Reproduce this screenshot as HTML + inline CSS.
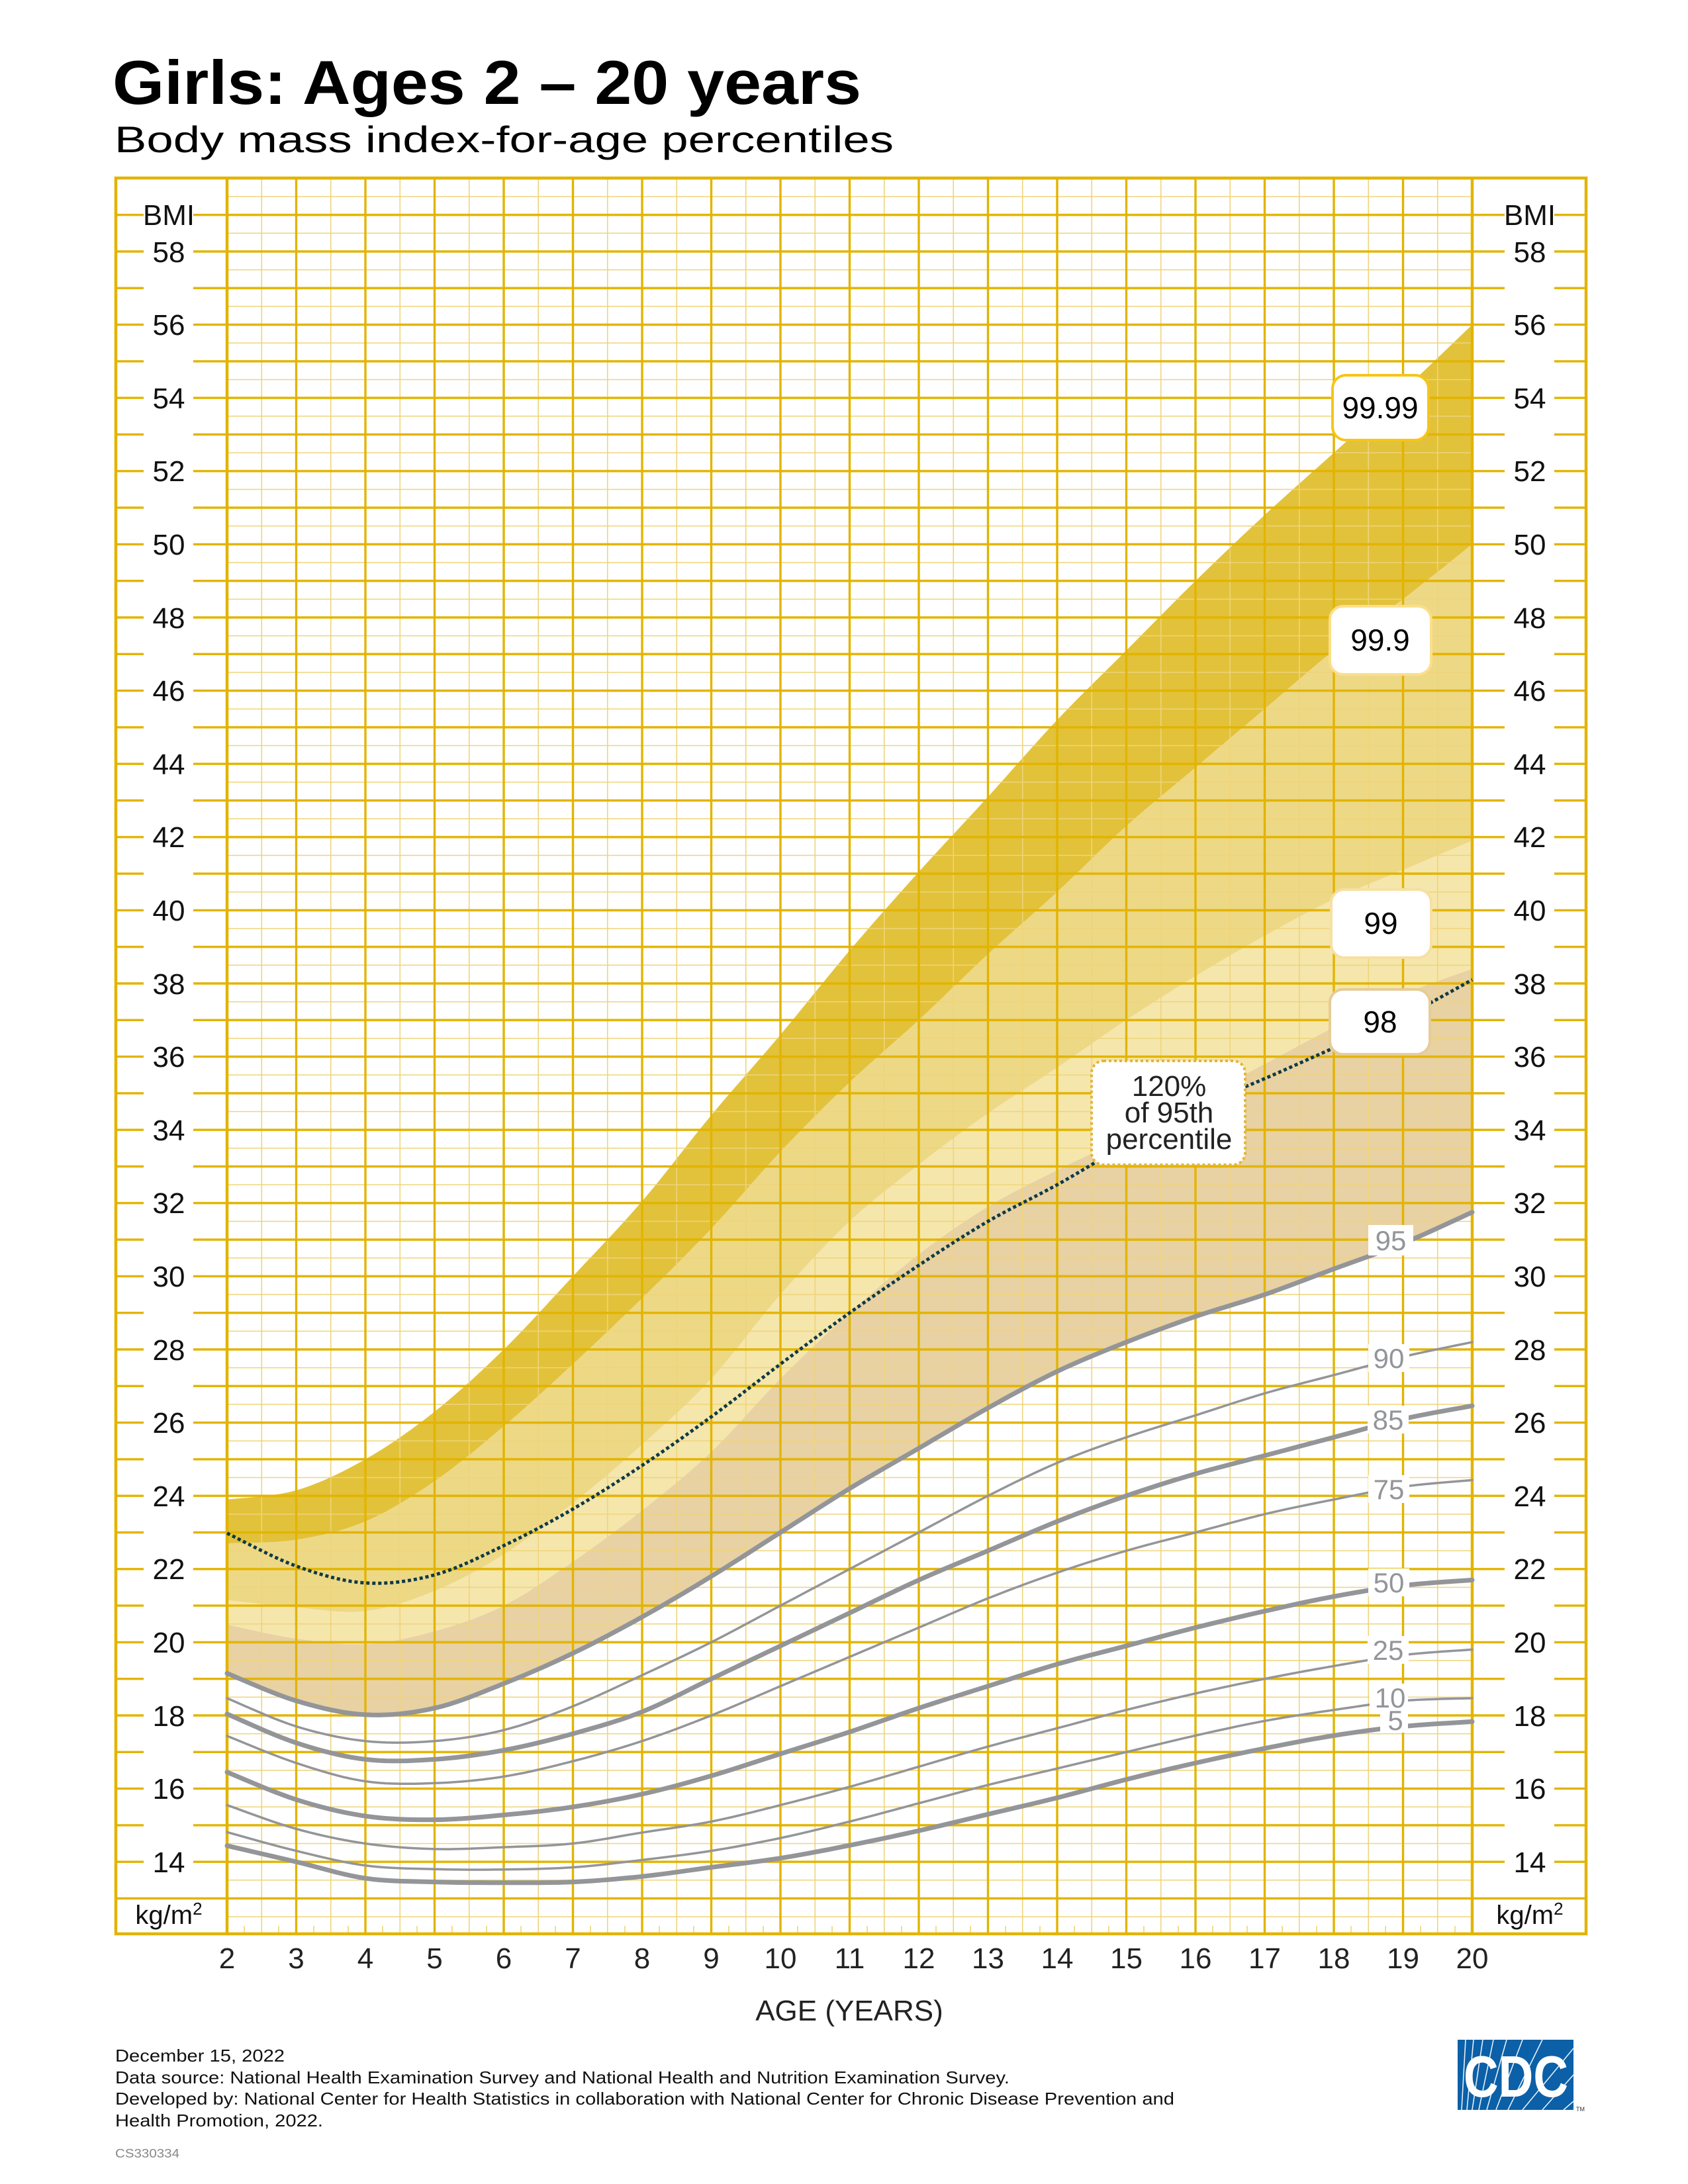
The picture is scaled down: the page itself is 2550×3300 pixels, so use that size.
<!DOCTYPE html>
<html><head><meta charset="utf-8"><style>
html,body{margin:0;padding:0;background:#fff}
svg{display:block}
text{font-family:"Liberation Sans",Arial,sans-serif}
</style></head><body>
<svg width="2550" height="3300" viewBox="0 0 2550 3300" xmlns="http://www.w3.org/2000/svg">
<defs>
<pattern id="grid" patternUnits="userSpaceOnUse" x="343" y="380" width="104.5" height="55.3">
<line x1="52.25" y1="0" x2="52.25" y2="55.3" stroke="#efd47a" stroke-width="1.6"/>
<line x1="0" y1="27.65" x2="104.5" y2="27.65" stroke="#efd47a" stroke-width="1.6"/>
<line x1="0" y1="0" x2="0" y2="55.3" stroke="#e2b400" stroke-width="3.4"/>
<line x1="104.5" y1="0" x2="104.5" y2="55.3" stroke="#e2b400" stroke-width="3.4"/>
<line x1="0" y1="0" x2="104.5" y2="0" stroke="#e2b400" stroke-width="3.4"/>
<line x1="0" y1="55.3" x2="104.5" y2="55.3" stroke="#e2b400" stroke-width="3.4"/>
</pattern>
</defs>
<rect width="2550" height="3300" fill="#fff"/>

<text x="170" y="157" font-size="94" font-weight="bold" textLength="1131" lengthAdjust="spacingAndGlyphs">Girls: Ages 2 – 20 years</text>
<text x="173" y="230" font-size="56" textLength="1177" lengthAdjust="spacingAndGlyphs">Body mass index-for-age percentiles</text>

<!-- bands -->
<g transform="translate(134,3587.4) scale(104.5,-55.3)">
<polygon class="sm" fill="#e2c23a" points="2,23.9 3,24.15 4,25 5,26.3 6,28 7,30 8,32.05 9,34.4 10,36.6 11,38.9 12,41.05 13,43.1 14,45.2 15,47.1 16,49 17,50.8 18,52.5 19,54.2 20,56 20,50 19,48.5 18,47.1 17,45.5 16,43.9 15,42.3 14,40.5 13,38.8 12,37 11,35.3 10,33.4 9,31.3 8,29.4 7,27.6 6,25.9 5,24.4 4,23.3 3,22.8 2,22.7"/>
<polygon class="sm" fill="#edd886" points="2,22.7 3,22.8 4,23.3 5,24.4 6,25.9 7,27.6 8,29.4 9,31.3 10,33.4 11,35.3 12,37 13,38.8 14,40.5 15,42.3 16,43.9 17,45.5 18,47.1 19,48.5 20,50 20,41.9 19,41.1 18,40.3 17,39.3 16,38.2 15,37 14,35.7 13,34.45 12,33.05 11,31.5 10,29.5 9,27.2 8,25.4 7,23.8 6,22.4 5,21.4 4,20.85 3,20.95 2,21.15"/>
<polygon class="sm" fill="#f5e6ac" points="2,21.15 3,20.95 4,20.85 5,21.4 6,22.4 7,23.8 8,25.4 9,27.2 10,29.5 11,31.5 12,33.05 13,34.45 14,35.7 15,37 16,38.2 17,39.3 18,40.3 19,41.1 20,41.9 20,38.4 19,37.7 18,36.8 17,35.8 16,34.8 15,33.8 14,32.9 13,31.9 12,30.6 11,29 10,27.2 9,25.2 8,23.6 7,22.2 6,21 5,20.3 4,19.95 3,20.1 2,20.48"/>
<polygon class="sm" fill="#e8d1a3" points="2,20.48 3,20.1 4,19.95 5,20.3 6,21 7,22.2 8,23.6 9,25.2 10,27.2 11,29 12,30.6 13,31.9 14,32.9 15,33.8 16,34.8 17,35.8 18,36.8 19,37.7 20,38.4 20,31.75 19,30.9 18,30.2 17,29.5 16,28.9 15,28.2 14,27.4 13,26.4 12,25.3 11,24.2 10,23 9,21.8 8,20.69 7,19.7 6,18.87 5,18.2 4,18.02 3,18.4 2,19.15"/>
</g>

<!-- grid -->
<rect x="343" y="269" width="1881" height="2654" fill="url(#grid)"/>
<g stroke="#efd47a" stroke-width="1.6">
<path d="M369,2910V2922M421,2910V2922M474,2910V2922M526,2910V2922M578,2910V2922M630,2910V2922M683,2910V2922M735,2910V2922M787,2910V2922M839,2910V2922M892,2910V2922M944,2910V2922M996,2910V2922M1048,2910V2922M1101,2910V2922M1153,2910V2922M1205,2910V2922M1257,2910V2922M1310,2910V2922M1362,2910V2922M1414,2910V2922M1466,2910V2922M1519,2910V2922M1571,2910V2922M1623,2910V2922M1675,2910V2922M1728,2910V2922M1780,2910V2922M1832,2910V2922M1884,2910V2922M1937,2910V2922M1989,2910V2922M2041,2910V2922M2093,2910V2922M2146,2910V2922M2198,2910V2922"/>
</g>
<!-- side column lines -->
<g stroke="#e2b400" stroke-width="3.4">
<path d="M175,324.7H343M175,380H343M175,435.3H343M175,490.6H343M175,545.9H343M175,601.2H343M175,656.5H343M175,711.8H343M175,767.1H343M175,822.4H343M175,877.7H343M175,933H343M175,988.3H343M175,1043.6H343M175,1098.9H343M175,1154.2H343M175,1209.5H343M175,1264.8H343M175,1320.1H343M175,1375.4H343M175,1430.7H343M175,1486H343M175,1541.3H343M175,1596.6H343M175,1651.9H343M175,1707.2H343M175,1762.5H343M175,1817.8H343M175,1873.1H343M175,1928.4H343M175,1983.7H343M175,2039H343M175,2094.3H343M175,2149.6H343M175,2204.9H343M175,2260.2H343M175,2315.5H343M175,2370.8H343M175,2426.1H343M175,2481.4H343M175,2536.7H343M175,2592H343M175,2647.3H343M175,2702.6H343M175,2757.9H343M175,2813.2H343M175,2868.5H343"/>
<path transform="translate(2049,0)" d="M175,324.7H347M175,380H347M175,435.3H347M175,490.6H347M175,545.9H347M175,601.2H347M175,656.5H347M175,711.8H347M175,767.1H347M175,822.4H347M175,877.7H347M175,933H347M175,988.3H347M175,1043.6H347M175,1098.9H347M175,1154.2H347M175,1209.5H347M175,1264.8H347M175,1320.1H347M175,1375.4H347M175,1430.7H347M175,1486H347M175,1541.3H347M175,1596.6H347M175,1651.9H347M175,1707.2H347M175,1762.5H347M175,1817.8H347M175,1873.1H347M175,1928.4H347M175,1983.7H347M175,2039H347M175,2094.3H347M175,2149.6H347M175,2204.9H347M175,2260.2H347M175,2315.5H347M175,2370.8H347M175,2426.1H347M175,2481.4H347M175,2536.7H347M175,2592H347M175,2647.3H347M175,2702.6H347M175,2757.9H347M175,2813.2H347M175,2868.5H347"/>
</g>
<rect x="217" y="300" width="75" height="2560" fill="#fff"/>
<rect x="2273" y="300" width="75" height="2560" fill="#fff"/>
<g stroke="#e2b400" stroke-width="4.5" fill="none">
<rect x="175" y="269" width="2221" height="2653"/>
<line x1="343" y1="269" x2="343" y2="2922"/>
<line x1="2224" y1="269" x2="2224" y2="2922"/>
</g>

<!-- percentile curves -->
<g transform="translate(134,3587.4) scale(104.5,-55.3)" fill="none" stroke="#939598" stroke-linejoin="round" stroke-linecap="round">
<polyline class="sl" vector-effect="non-scaling-stroke" stroke-width="7" points="2,19.15 3,18.4 4,18.02 5,18.2 6,18.87 7,19.7 8,20.69 9,21.8 10,23 11,24.2 12,25.3 13,26.4 14,27.4 15,28.2 16,28.9 17,29.5 18,30.2 19,30.9 20,31.75"/>
<polyline class="sl" vector-effect="non-scaling-stroke" stroke-width="3.5" points="2,18.47 3,17.7 4,17.3 5,17.3 6,17.6 7,18.25 8,19.1 9,20 10,21 11,22 12,23 13,24 14,24.9 15,25.6 16,26.2 17,26.8 18,27.3 19,27.8 20,28.2"/>
<polyline class="sl" vector-effect="non-scaling-stroke" stroke-width="7" points="2,18.04 3,17.25 4,16.8 5,16.8 6,17.05 7,17.5 8,18.1 9,19 10,19.9 11,20.8 12,21.7 13,22.5 14,23.3 15,24 16,24.6 17,25.1 18,25.6 19,26.1 20,26.46"/>
<polyline class="sl" vector-effect="non-scaling-stroke" stroke-width="3.5" points="2,17.44 3,16.7 4,16.2 5,16.15 6,16.33 7,16.75 8,17.3 9,18 10,18.8 11,19.6 12,20.4 13,21.2 14,21.9 15,22.5 16,23 17,23.5 18,23.9 19,24.25 20,24.43"/>
<polyline class="sl" vector-effect="non-scaling-stroke" stroke-width="7" points="2,16.45 3,15.7 4,15.25 5,15.15 6,15.28 7,15.5 8,15.85 9,16.35 10,16.95 11,17.55 12,18.2 13,18.8 14,19.4 15,19.9 16,20.4 17,20.85 18,21.25 19,21.55 20,21.7"/>
<polyline class="sl" vector-effect="non-scaling-stroke" stroke-width="3.5" points="2,15.55 3,14.9 4,14.5 5,14.35 6,14.4 7,14.5 8,14.8 9,15.1 10,15.55 11,16.05 12,16.6 13,17.15 14,17.65 15,18.15 16,18.6 17,19 18,19.35 19,19.65 20,19.8"/>
<polyline class="sl" vector-effect="non-scaling-stroke" stroke-width="3.5" points="2,14.81 3,14.3 4,13.9 5,13.8 6,13.79 7,13.85 8,14.05 9,14.3 10,14.65 11,15.1 12,15.6 13,16.1 14,16.55 15,17 16,17.45 17,17.85 18,18.15 19,18.4 20,18.47"/>
<polyline class="sl" vector-effect="non-scaling-stroke" stroke-width="7" points="2,14.44 3,14 4,13.55 5,13.45 6,13.43 7,13.45 8,13.6 9,13.85 10,14.1 11,14.45 12,14.85 13,15.3 14,15.75 15,16.25 16,16.7 17,17.1 18,17.45 19,17.7 20,17.83"/>
<polyline class="sl" vector-effect="non-scaling-stroke" stroke-width="5" stroke="#0f3a45" stroke-linecap="butt" stroke-dasharray="5 4" points="2,22.98 3,22.08 4,21.62 5,21.84 6,22.64 7,23.64 8,24.83 9,26.16 10,27.6 11,29.0 12,30.3 13,31.5 14,32.5 15,33.6 16,34.6 17,35.4 18,36.24 19,37.08 20,38.1"/>
</g>

<!-- percentile labels -->
<g fill="#fff">
<rect x="2067" y="1851" width="68" height="46"/>
<rect x="2067" y="2031" width="62" height="42"/>
<rect x="2066" y="2124" width="62" height="42"/>
<rect x="2067" y="2229" width="62" height="42"/>
<rect x="2067" y="2370" width="62" height="42"/>
<rect x="2066" y="2472" width="62" height="42"/>
<rect x="2069" y="2544" width="58" height="40"/>
<rect x="2085" y="2582" width="42" height="36"/>
</g>
<g fill="#939598" font-size="42" text-anchor="middle">
<text x="2101" y="1889">95</text>
<text x="2098" y="2067">90</text>
<text x="2097" y="2160">85</text>
<text x="2098" y="2265">75</text>
<text x="2098" y="2406">50</text>
<text x="2097" y="2508">25</text>
<text x="2100" y="2580">10</text>
<text x="2108" y="2614">5</text>
</g>

<g font-size="46" text-anchor="middle" stroke-width="4">
<rect x="2013" y="567" width="145" height="98" rx="20" fill="#fff" stroke="#f5c518"/>
<text x="2085" y="632">99.99</text>
<rect x="2009" y="916" width="153" height="103" rx="20" fill="#fff" stroke="#fbdf8a"/>
<text x="2085" y="983">99.9</text>
<rect x="2011" y="1344" width="151" height="103" rx="20" fill="#fff" stroke="#f6e0a2"/>
<text x="2086" y="1411">99</text>
<rect x="2009" y="1495" width="151" height="98" rx="20" fill="#fff" stroke="#e6cc96"/>
<text x="2085" y="1560">98</text>
<rect x="1649" y="1603" width="232" height="157" rx="18" fill="#fff" stroke="#e2b53a" stroke-dasharray="4 4"/>
<text x="1766" y="1656" font-size="44" fill="#222">120%</text>
<text x="1766" y="1696" font-size="44" fill="#222">of 95th</text>
<text x="1766" y="1736" font-size="44" fill="#222">percentile</text>
</g>

<!-- axis labels -->
<g font-size="44" text-anchor="middle" fill="#111">
<text x="255" y="340">BMI</text><text x="2311" y="340">BMI</text>
<text x="255" y="396">58</text><text x="2311" y="396">58</text>
<text x="255" y="506">56</text><text x="2311" y="506">56</text>
<text x="255" y="617">54</text><text x="2311" y="617">54</text>
<text x="255" y="727">52</text><text x="2311" y="727">52</text>
<text x="255" y="838">50</text><text x="2311" y="838">50</text>
<text x="255" y="949">48</text><text x="2311" y="949">48</text>
<text x="255" y="1059">46</text><text x="2311" y="1059">46</text>
<text x="255" y="1170">44</text><text x="2311" y="1170">44</text>
<text x="255" y="1280">42</text><text x="2311" y="1280">42</text>
<text x="255" y="1391">40</text><text x="2311" y="1391">40</text>
<text x="255" y="1502">38</text><text x="2311" y="1502">38</text>
<text x="255" y="1612">36</text><text x="2311" y="1612">36</text>
<text x="255" y="1723">34</text><text x="2311" y="1723">34</text>
<text x="255" y="1833">32</text><text x="2311" y="1833">32</text>
<text x="255" y="1944">30</text><text x="2311" y="1944">30</text>
<text x="255" y="2055">28</text><text x="2311" y="2055">28</text>
<text x="255" y="2165">26</text><text x="2311" y="2165">26</text>
<text x="255" y="2276">24</text><text x="2311" y="2276">24</text>
<text x="255" y="2386">22</text><text x="2311" y="2386">22</text>
<text x="255" y="2497">20</text><text x="2311" y="2497">20</text>
<text x="255" y="2608">18</text><text x="2311" y="2608">18</text>
<text x="255" y="2718">16</text><text x="2311" y="2718">16</text>
<text x="255" y="2829">14</text><text x="2311" y="2829">14</text>
</g>
<g font-size="40" text-anchor="middle" fill="#111">
<text x="255" y="2907">kg/m<tspan font-size="26" dy="-14">2</tspan></text>
<text x="2311" y="2907">kg/m<tspan font-size="26" dy="-14">2</tspan></text>
</g>
<g font-size="44" text-anchor="middle" fill="#222">
<text x="343" y="2974">2</text><text x="447.5" y="2974">3</text><text x="552" y="2974">4</text><text x="656.5" y="2974">5</text><text x="761" y="2974">6</text><text x="865.5" y="2974">7</text><text x="970" y="2974">8</text><text x="1074.5" y="2974">9</text><text x="1179" y="2974">10</text><text x="1283.5" y="2974">11</text><text x="1388" y="2974">12</text><text x="1492.5" y="2974">13</text><text x="1597" y="2974">14</text><text x="1701.5" y="2974">15</text><text x="1806" y="2974">16</text><text x="1910.5" y="2974">17</text><text x="2015" y="2974">18</text><text x="2119.5" y="2974">19</text><text x="2224" y="2974">20</text>
<text x="1283" y="3053">AGE (YEARS)</text>
</g>

<!-- footer -->
<g font-size="26" fill="#111">
<text x="174" y="3115" textLength="256" lengthAdjust="spacingAndGlyphs">December 15, 2022</text>
<text x="174" y="3148" textLength="1351" lengthAdjust="spacingAndGlyphs">Data source: National Health Examination Survey and National Health and Nutrition Examination Survey.</text>
<text x="174" y="3180" textLength="1600" lengthAdjust="spacingAndGlyphs">Developed by: National Center for Health Statistics in collaboration with National Center for Chronic Disease Prevention and</text>
<text x="174" y="3213" textLength="314" lengthAdjust="spacingAndGlyphs">Health Promotion, 2022.</text>
<text x="174" y="3260" font-size="18" fill="#888" textLength="97" lengthAdjust="spacingAndGlyphs">CS330334</text>
</g>

<!-- CDC logo -->
<rect x="2202" y="3082" width="175" height="106" fill="#0b60a8"/>
<g stroke="#fff" stroke-width="1.6" opacity="0.9">
<path d="M2208,3188L2214,3082M2216,3188L2226,3082M2224,3188L2240,3082M2234,3188L2256,3082M2246,3188L2276,3082M2260,3188L2300,3082M2278,3188L2330,3082M2300,3188L2377,3095M2330,3188L2377,3135M2362,3188L2377,3175"/>
</g>
<text x="2290" y="3168" font-family="Liberation Serif,serif" font-weight="bold" font-size="88" fill="#fff" text-anchor="middle" textLength="158" lengthAdjust="spacingAndGlyphs">CDC</text>
<text x="2381" y="3190" font-size="9" fill="#333">TM</text>
</svg>
<script>
(function(){
function parse(s){return s.trim().split(/\s+/).map(function(p){var a=p.split(',');return [parseFloat(a[0]),parseFloat(a[1])];});}
function smooth(P){var out=[],n=P.length;for(var i=0;i<n-1;i++){var p0=P[Math.max(i-1,0)],p1=P[i],p2=P[i+1],p3=P[Math.min(i+2,n-1)];
for(var k=0;k<10;k++){var t=k/10,t2=t*t,t3=t2*t;
var x=0.5*((2*p1[0])+(-p0[0]+p2[0])*t+(2*p0[0]-5*p1[0]+4*p2[0]-p3[0])*t2+(-p0[0]+3*p1[0]-3*p2[0]+p3[0])*t3);
var y=0.5*((2*p1[1])+(-p0[1]+p2[1])*t+(2*p0[1]-5*p1[1]+4*p2[1]-p3[1])*t2+(-p0[1]+3*p1[1]-3*p2[1]+p3[1])*t3);
out.push([x,y]);}}out.push(P[n-1]);return out;}
function str(P){return P.map(function(p){return p[0].toFixed(3)+','+p[1].toFixed(3);}).join(' ');}
var ls=document.querySelectorAll('polyline.sl');
for(var i=0;i<ls.length;i++){ls[i].setAttribute('points',str(smooth(parse(ls[i].getAttribute('points')))));}
var ps=document.querySelectorAll('polygon.sm');
for(var j=0;j<ps.length;j++){var P=parse(ps[j].getAttribute('points'));var h=P.length/2;
var a=smooth(P.slice(0,h)),b=smooth(P.slice(h));ps[j].setAttribute('points',str(a.concat(b)));}
})();
</script>
</body></html>
